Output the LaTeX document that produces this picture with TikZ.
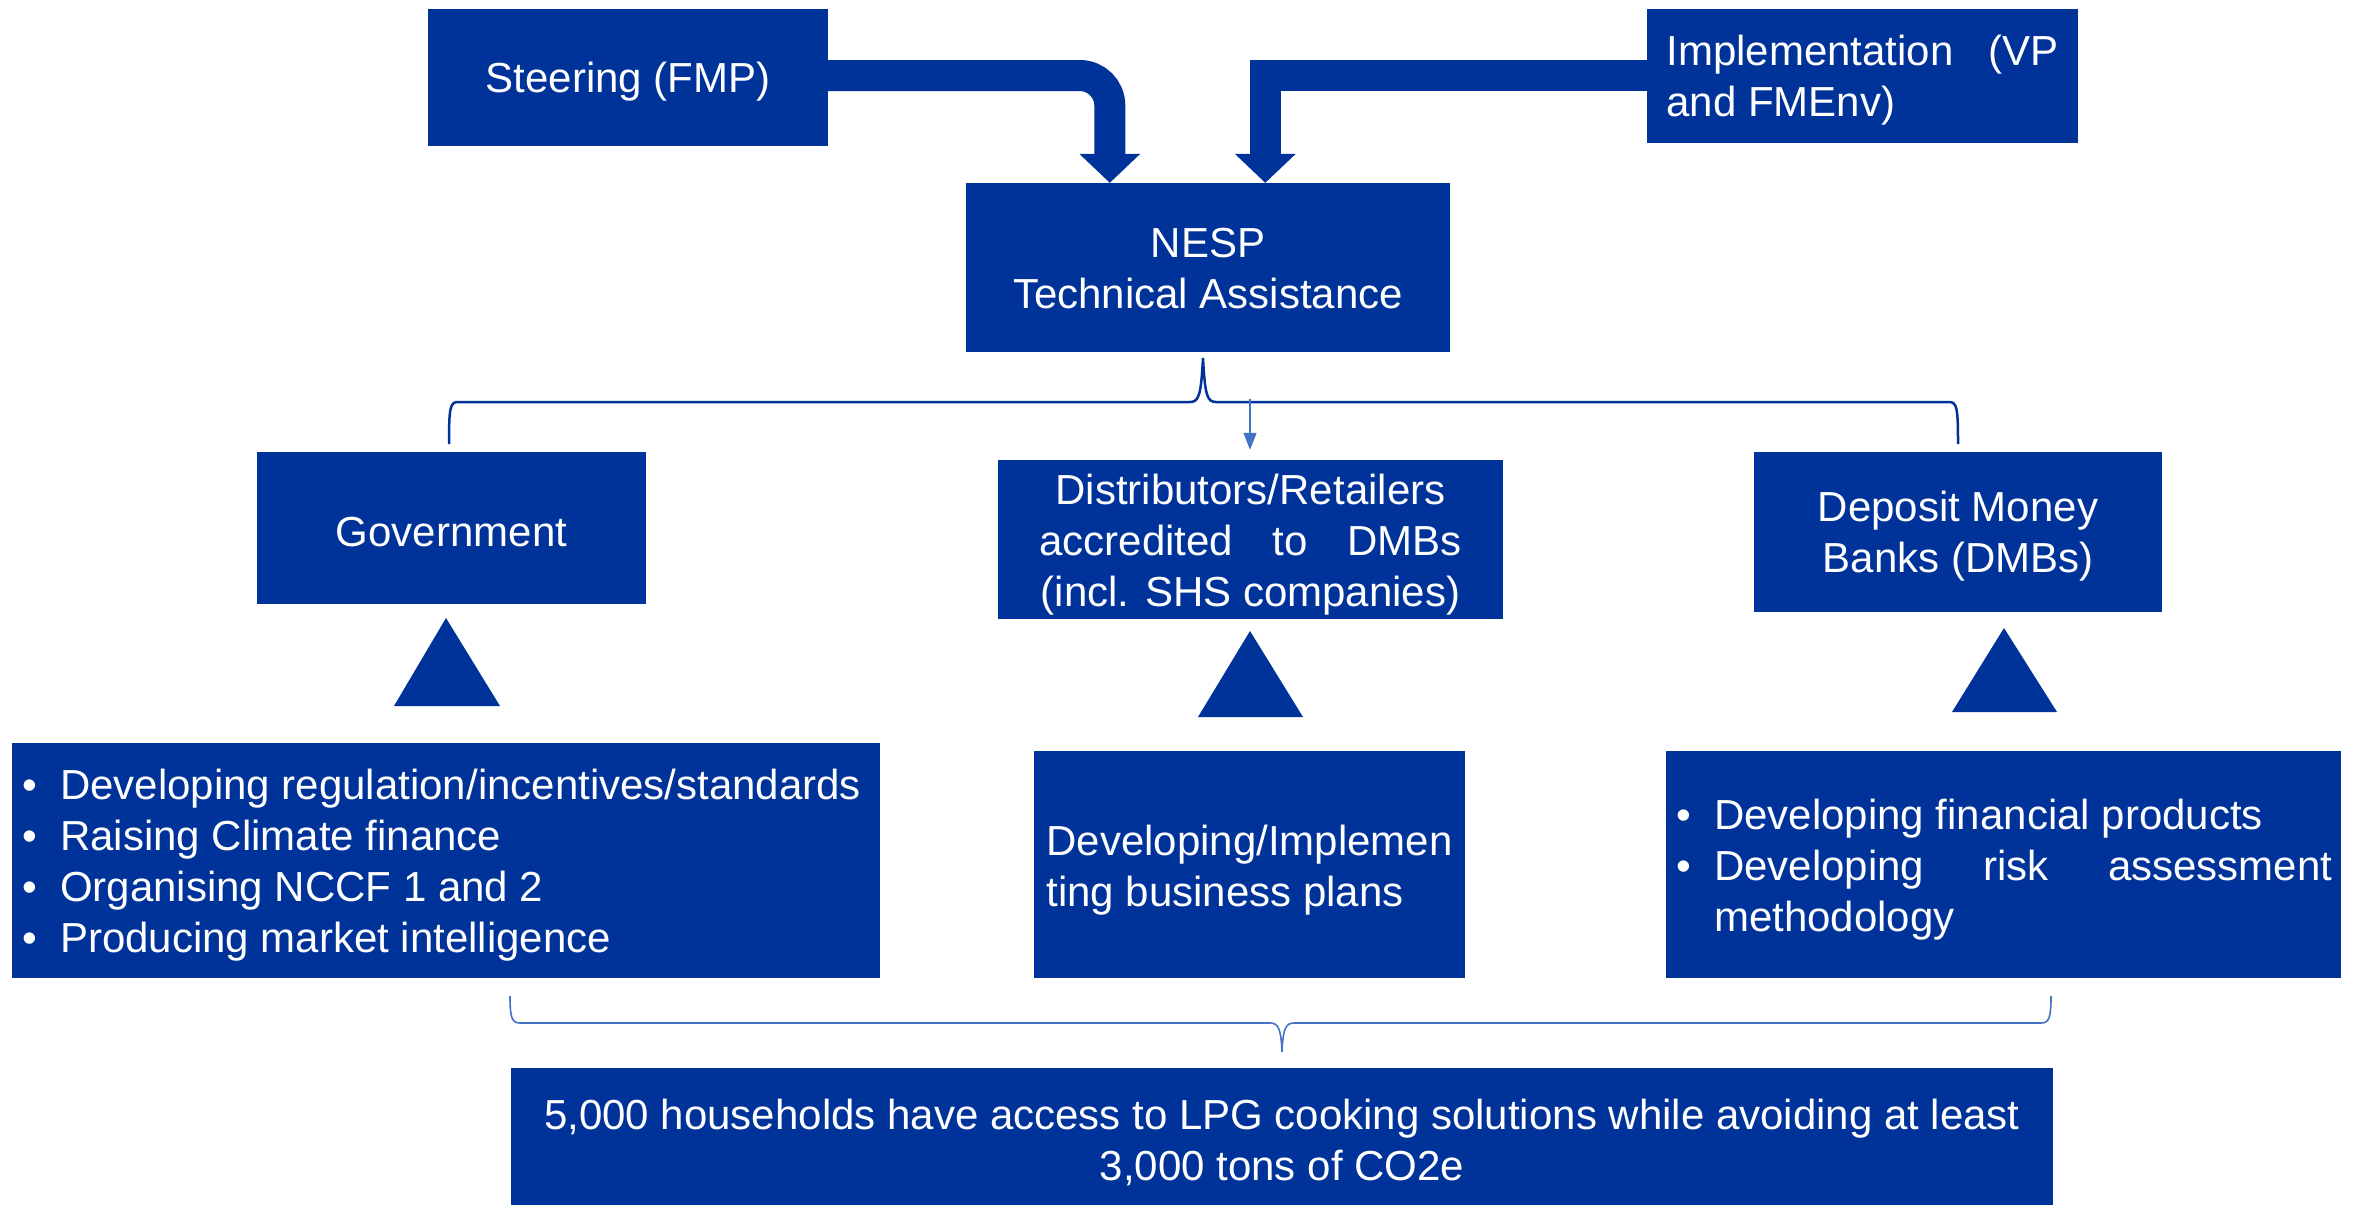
\documentclass[tikz,border=0pt]{standalone}
\usepackage{fontspec}
\setmainfont{Liberation Sans}
\usetikzlibrary{arrows.meta,calc}
\definecolor{nblue}{RGB}{0,51,153}
\definecolor{lblue}{RGB}{68,114,196}
\newcommand\txtsize{\fontsize{42}{51}\selectfont}
\begin{document}
\begin{tikzpicture}[x=1pt,y=-1pt,
  box/.style={fill=nblue,inner sep=0pt},
  lbl/.style={text=white,inner sep=0pt,font=\txtsize,align=center},
  listtext/.style={text=white,inner sep=0pt,font=\txtsize,align=left},
  barrow/.style={draw=nblue,line width=31pt,-{Triangle[width=61pt,length=29pt,line width=0pt]}},
  tri/.style={fill=nblue},
  bracetop/.style={draw=nblue,line width=2.5pt},
  bracebot/.style={draw=lblue,line width=1.6pt},
  thinarrow/.style={draw=lblue,line width=1.6pt,-{Triangle[width=13pt,length=17pt]}}]
\useasboundingbox (0,0) rectangle (2356,1205);

% top row
\node[box,minimum width=400pt,minimum height=137pt] (steer) at (628,77.5) {};
\node[lbl] (steert) at ($(steer)+(0,4.5)$) {Steering (FMP)};
\node[box,minimum width=431pt,minimum height=134pt] (impl) at (1862.5,76) {};
\node[lbl,align=left] (implt) at ($(impl)+(0,4.5)$)
  {\makebox[392pt][s]{Implementation (VP}\\and FMEnv)};
\node[box,minimum width=484pt,minimum height=169pt] (nesp) at (1208,267.5) {};
\node[lbl] (nespt) at ($(nesp)+(0,1.5)$) {NESP\\Technical Assistance};

% block arrows
\draw[barrow,rounded corners=30pt] ($(steer.east)+(0,-2)$) -| ($(nesp.north west)+(144,0)$);
\draw[barrow] ($(impl.west)+(0,-0.5)$) -| ($(nesp.north west)+(299.5,0)$);

% second row
\node[box,minimum width=389pt,minimum height=152pt] (gov) at (451.5,528) {};
\node[lbl] (govtx) at ($(gov)+(0,4.5)$) {Government};
\node[box,minimum width=505pt,minimum height=159pt] (dist) at (1250.5,539.5) {};
\node[lbl] (distt) at ($(dist)+(0,5)$)
  {Distributors/Retailers\\\makebox[422pt][s]{accredited to DMBs}\\(incl. SHS companies)};
\node[box,minimum width=408pt,minimum height=160pt] (dmb) at (1958,532) {};
\node[lbl] (dmbtx) at ($(dmb)+(0,4.5)$) {Deposit Money\\Banks (DMBs)};

% top brace
\coordinate (btip) at (1203,358);
\coordinate (bl) at (449,444);
\coordinate (br) at (1958,444);
\draw[bracetop] (bl) .. controls (449,408) and (450,402) .. (458,402) -- (1190,402)
  .. controls (1199,402) and (1201,395) .. (btip)
  .. controls (1205,395) and (1207,402) .. (1216,402) -- (1949,402)
  .. controls (1957,402) and (1958,408) .. (br);
\coordinate (astart) at (1250,399);
\draw[thinarrow] (astart) -- ($(dist.north)+(-0.5,-10)$);

% triangles
\fill[tri] (446,618) -- (500,706) -- (394,706) -- cycle;
\fill[tri] (1250,631) -- (1303,717) -- (1198,717) -- cycle;
\fill[tri] (2004,628) -- (2057,712) -- (1952,712) -- cycle;

% third row
\node[box,minimum width=868pt,minimum height=235pt] (govl) at (446,860.5) {};
\node[listtext,anchor=west] (govt) at (22,865)
  {\makebox[38pt][l]{•}Developing regulation/incentives/standards\\
   \makebox[38pt][l]{•}Raising Climate finance\\
   \makebox[38pt][l]{•}Organising NCCF 1 and 2\\
   \makebox[38pt][l]{•}Producing market intelligence};
\node[box,minimum width=431pt,minimum height=227pt] (dev) at (1249.5,864.5) {};
\node[lbl,align=left] (devt) at ($(dev)+(0,5.5)$)
  {Developing/Implemen\\ting business plans};
\node[box,minimum width=675pt,minimum height=227pt] (dmbl) at (2003.5,864.5) {};
\node[listtext,anchor=west] (dmbt) at (1676,869.5)
  {\makebox[38pt][l]{•}Developing financial products\\
   \makebox[38pt][l]{•}\makebox[618pt][s]{Developing risk assessment}\\
   \hspace*{38pt}methodology};

% bottom brace
\coordinate (cl) at (510,996);
\coordinate (cr) at (2051,996);
\coordinate (ctip) at (1282,1052);
\draw[bracebot] (cl) .. controls (510,1018) and (512,1023) .. (520,1023) -- (1270,1023)
  .. controls (1278,1023) and (1281,1028) .. (ctip)
  .. controls (1283,1028) and (1286,1023) .. (1294,1023) -- (2041,1023)
  .. controls (2049,1023) and (2051,1018) .. (cr);

% result
\node[box,minimum width=1542pt,minimum height=137pt] (res) at (1282,1136.5) {};
\node[lbl] (rest) at ($(res)+(0,5.5)$)
  {5,000 households have access to LPG cooking solutions while avoiding at least\\3,000 tons of CO2e};
\end{tikzpicture}
\end{document}
